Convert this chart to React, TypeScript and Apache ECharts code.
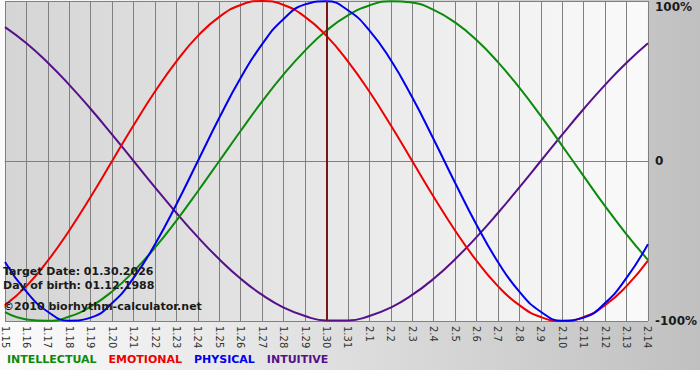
import React, { useEffect, useRef } from "react";
import * as echarts from "echarts";

const dates = [
  "1.15", "1.16", "1.17", "1.18", "1.19", "1.20", "1.21", "1.22", "1.23", "1.24",
  "1.25", "1.26", "1.27", "1.28", "1.29", "1.30", "1.31", "2.1", "2.2", "2.3",
  "2.4", "2.5", "2.6", "2.7", "2.8", "2.9", "2.10", "2.11", "2.12", "2.13", "2.14",
];

const intellectual = [
  -94.5, -99.0, -99.9, -97.2, -91.0, -81.5, -69.0, -54.1, -37.2, -18.9,
  0, 18.9, 37.2, 54.1, 69.0, 81.5, 91.0, 97.2, 99.9, 99.0,
  94.5, 86.6, 75.6, 61.8, 45.8, 28.2, 9.5, -9.5, -28.2, -45.8, -61.8,
];

const emotional = [
  -90.1, -78.2, -62.3, -43.4, -22.3, 0, 22.3, 43.4, 62.3, 78.2,
  90.1, 97.5, 100, 97.5, 90.1, 78.2, 62.3, 43.4, 22.3, 0,
  -22.3, -43.4, -62.3, -78.2, -90.1, -97.5, -100, -97.5, -90.1, -78.2, -62.3,
];

const physical = [
  -63.1, -81.7, -94.2, -99.8, -97.9, -88.8, -73.1, -52.0, -27.0, 0,
  27.0, 52.0, 73.1, 88.8, 97.9, 99.8, 94.2, 81.7, 63.1, 39.8,
  13.6, -13.6, -39.8, -63.1, -81.7, -94.2, -99.8, -97.9, -88.8, -73.1, -52.0,
];

const intuitive = [
  83.7, 73.6, 61.4, 47.6, 32.5, 16.5, 0, -16.5, -32.5, -47.6,
  -61.4, -73.6, -83.7, -91.6, -96.9, -99.7, -99.7, -96.9, -91.6, -83.7,
  -73.6, -61.4, -47.6, -32.5, -16.5, 0, 16.5, 32.5, 47.6, 61.4, 73.6,
];

const yTicks = ["-100%", "0", "100%"];
const targetDate = "1.30";
const infoLines = [
  "Target Date: 01.30.2026",
  "Day of birth: 01.12.1988",
  "©2010 biorhythm-calculator.net",
];

const FONT = "DejaVu Sans";

export default function App() {
  const ref = useRef<HTMLDivElement>(null);

  useEffect(() => {
    if (!ref.current) return;
    const chart = echarts.init(ref.current, undefined, { renderer: "svg" });

    const mk = (name: string, data: number[], color: string, extra: any = {}) => ({
      name,
      type: "line",
      data,
      smooth: true,
      symbol: "none",
      lineStyle: { color, width: 2 },
      itemStyle: { color },
      ...extra,
    });

    chart.setOption({
      animation: false,
      backgroundColor: new echarts.graphic.LinearGradient(0, 0, 1, 0, [
        { offset: 0, color: "#fbfbfb" },
        { offset: 1, color: "#c0c0c0" },
      ]),
      grid: {
        left: 0,
        right: 49,
        top: 1,
        bottom: 49,
        show: true,
        borderWidth: 0,
        backgroundColor: new echarts.graphic.LinearGradient(0, 0, 1, 0, [
          { offset: 0, color: "#d5d5d5" },
          { offset: 1, color: "#fafafa" },
        ]),
      },
      legend: {
        left: 2,
        top: 354,
        icon: "none",
        itemWidth: 0,
        itemHeight: 0,
        itemGap: 7,
        padding: 0,
        textStyle: { fontFamily: FONT, fontWeight: "bold", fontSize: 11 },
        data: [
          { name: "INTELLECTUAL", textStyle: { color: "#0b8a0b" } },
          { name: "EMOTIONAL", textStyle: { color: "#ee0000" } },
          { name: "PHYSICAL", textStyle: { color: "#0000ee" } },
          { name: "INTUITIVE", textStyle: { color: "#55108a" } },
        ],
      },
      xAxis: {
        type: "category",
        data: dates,
        boundaryGap: false,
        axisLine: { show: true, lineStyle: { color: "#808080", width: 1 } },
        axisTick: { show: true, length: 4, lineStyle: { color: "#808080" } },
        splitLine: { show: true, lineStyle: { color: "#808080", width: 1 } },
        axisLabel: {
          rotate: -90,
          margin: 5,
          interval: 0,
          color: "#333333",
          fontFamily: FONT,
          fontSize: 10,
        },
      },
      yAxis: {
        type: "value",
        position: "right",
        min: -100,
        max: 100,
        interval: 100,
        axisLine: { show: false },
        axisTick: { show: false },
        splitLine: { show: true, lineStyle: { color: "#808080", width: 1 } },
        axisLabel: {
          margin: 7,
          color: "#1a1a1a",
          fontFamily: FONT,
          fontWeight: "bold",
          fontSize: 12,
          formatter: (v: number) =>
            v === 100 ? "{t|" + yTicks[2] + "}" : v === 0 ? yTicks[1] : yTicks[0],
          rich: {
            t: {
              padding: [12, 0, 0, 0],
              color: "#1a1a1a",
              fontFamily: FONT,
              fontWeight: "bold",
              fontSize: 12,
            },
          },
        },
      },
      graphic: infoLines.map((t, i) => ({
        type: "text",
        left: 3,
        top: [266, 280, 301][i],
        z: 100,
        style: {
          text: t,
          fill: "#1a1a1a",
          font: `bold 11px "${FONT}"`,
        },
      })),
      series: [
        mk("INTUITIVE", intuitive, "#55108a"),
        mk("INTELLECTUAL", intellectual, "#0b8a0b", {
          markLine: {
            silent: true,
            symbol: "none",
            label: { show: false },
            lineStyle: { color: "#7a1515", width: 2, type: "solid" },
            data: [{ xAxis: targetDate }],
          },
        }),
        mk("EMOTIONAL", emotional, "#ee0000"),
        mk("PHYSICAL", physical, "#0000ee"),
      ],
    });

    return () => chart.dispose();
  }, []);

  return (
    <div
      style={{ position: "fixed", left: 0, top: 0, width: 700, height: 380, background: "#ffffff" }}
    >
      <div ref={ref} style={{ width: 700, height: 370 }} />
    </div>
  );
}
